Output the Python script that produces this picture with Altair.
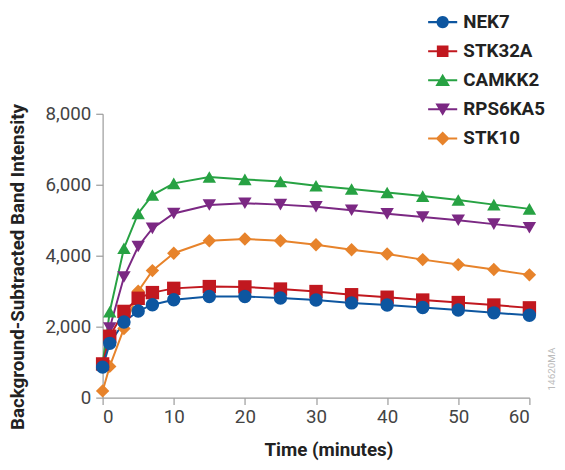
import math
import altair as alt
import pandas as pd

minutes = [0, 1, 3, 5, 7, 10, 15, 20, 25, 30, 35, 40, 45, 50, 55, 60]
series_names = ["NEK7", "STK32A", "CAMKK2", "RPS6KA5", "STK10"]
nek7 = [860, 1530, 2130, 2440, 2620, 2760, 2850, 2850, 2810, 2750, 2670, 2610, 2540, 2470, 2390, 2320]
stk32a = [950, 1730, 2430, 2800, 2960, 3080, 3130, 3120, 3060, 2990, 2900, 2830, 2750, 2680, 2610, 2530]
camkk2 = [950, 2420, 4210, 5190, 5710, 6040, 6220, 6150, 6090, 5970, 5880, 5780, 5680, 5570, 5440, 5320]
rps6ka5 = [900, 1960, 3400, 4260, 4770, 5190, 5430, 5480, 5440, 5380, 5280, 5180, 5090, 5000, 4890, 4790]
stk10 = [190, 880, 1950, 3000, 3580, 4070, 4420, 4470, 4420, 4310, 4170, 4050, 3890, 3750, 3610, 3460]
colors = ["#0d56a0", "#c1181f", "#27a243", "#7b2883", "#e7832b"]
shapes = ["circle", "square", "triangle-up", "triangle-down", "diamond"]
x_ticks = [0, 10, 20, 30, 40, 50, 60]
y_ticks = [0, 2000, 4000, 6000, 8000]

# legend glyphs (style only): a thin bar for the line plus the marker, wound clockwise
bar = "M-1,-0.07L1,-0.07L1,0.07L-1,0.07Z"
circ = "M" + "L".join(
    "%.3f,%.3f" % (0.42 * math.cos(2 * math.pi * k / 24), 0.42 * math.sin(2 * math.pi * k / 24))
    for k in range(24)
) + "Z"
legend_paths = [
    bar + circ,
    bar + "M-0.4,-0.4L0.4,-0.4L0.4,0.4L-0.4,0.4Z",
    bar + "M0,-0.44L0.5,0.4L-0.5,0.4Z",
    bar + "M0,0.44L-0.5,-0.4L0.5,-0.4Z",
    bar + "M0,-0.48L0.48,0L0,0.48L-0.48,0Z",
]

rows = []
for name, vals in zip(series_names, [nek7, stk32a, camkk2, rps6ka5, stk10]):
    for t, v in zip(minutes, vals):
        rows.append({"series": name, "t": t, "v": v})
df = pd.DataFrame(rows)

FONT = "Liberation Sans Narrow, Arial Narrow, Roboto, sans-serif"

x = alt.X("t:Q", scale=alt.Scale(domain=[0, 60], nice=False),
          axis=alt.Axis(values=x_ticks, title="Time (minutes)", grid=False, format="d",
                        titleX=229, titleY=53, titleAlign="center", titleBaseline="middle"))
y = alt.Y("v:Q", scale=alt.Scale(domain=[0, 8000], nice=False),
          axis=alt.Axis(values=y_ticks, format=",.0f", title="Background-Subtracted Band Intensity",
                        grid=False, titleX=-86, titleY=155, titleAngle=-90,
                        titleAlign="center", titleBaseline="middle", labelPadding=5))

base = alt.Chart(df)
order = list(reversed(list(zip(series_names, colors, shapes))))

line_layers = [
    base.transform_filter(alt.datum.series == name)
    .mark_line(strokeWidth=2, color=col)
    .encode(x=x, y=y)
    for name, col, shp in order
]
point_layers = [
    base.transform_filter(alt.datum.series == name)
    .mark_point(shape=shp, filled=True, size=185, opacity=1, color=col)
    .encode(x=x, y=y)
    for name, col, shp in order
]

leg = alt.Legend(title=None, orient="none", legendX=330, legendY=-108,
                 symbolSize=870, symbolStrokeWidth=0, labelFont=FONT, labelFontSize=19,
                 labelFontWeight="bold", labelColor="#222222", labelOffset=6,
                 rowPadding=4.5, symbolOpacity=1)
legend_layer = base.mark_point(filled=True, opacity=0).encode(
    x=x, y=y,
    color=alt.Color("series:N", scale=alt.Scale(domain=series_names, range=colors), legend=leg),
    shape=alt.Shape("series:N", scale=alt.Scale(domain=series_names, range=legend_paths), legend=leg),
)

watermark = alt.Chart(pd.DataFrame({"label": ["14620MA"]})).mark_text(
    angle=270, fontSize=10, color="#bbbbbb", font=FONT
).encode(x=alt.value(456), y=alt.value(259), text="label:N")

chart = alt.layer(*line_layers, *point_layers, legend_layer, watermark).properties(
    width=433, height=288,
    padding={"left": 96, "top": 104, "right": 28, "bottom": 64},
    autosize=alt.AutoSizeParams(type="none"),
).configure_view(stroke=None).configure_axis(
    domainColor="#9a9a9a", tickColor="#9a9a9a", tickSize=7, domainWidth=1.2, tickWidth=1.2,
    labelFont=FONT, labelFontSize=19, labelColor="#444444", labelPadding=3,
    titleFont=FONT, titleFontSize=19, titleFontWeight="bold", titleColor="#222222",
)

chart.save("out.html", embed_options={"renderer": "svg", "actions": False})
